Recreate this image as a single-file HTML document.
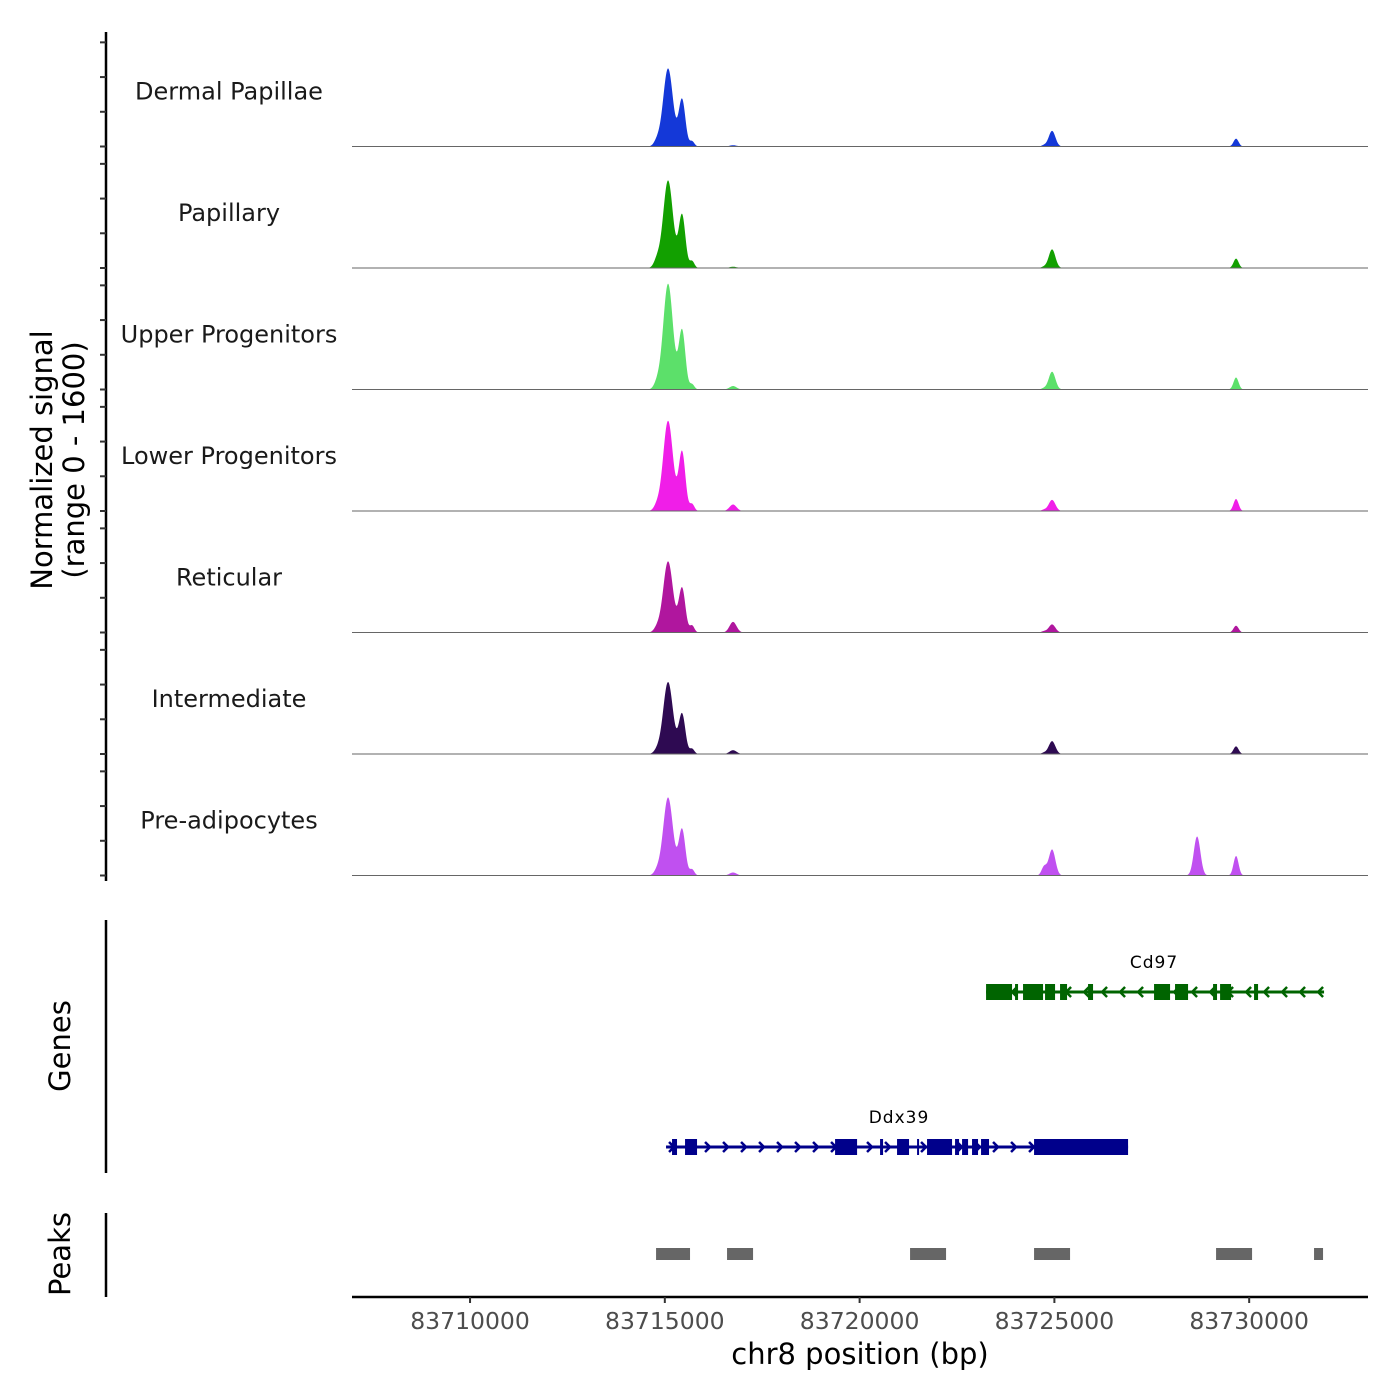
<!DOCTYPE html>
<html><head><meta charset="utf-8"><style>
html,body{margin:0;padding:0;background:#fff;}
svg{display:block;font-family:"DejaVu Sans","Liberation Sans",sans-serif;}
</style></head><body>
<svg id="chart" width="1400" height="1400" viewBox="0 0 1400 1400">
<g id="tracks"></g>
<g id="genes"></g>
<g id="peaks"></g>
<g id="xaxis"></g>
<text x="0" y="0" transform="translate(52,460) rotate(-90)" text-anchor="middle" font-size="29" fill="#000">Normalized signal</text>
<text x="0" y="0" transform="translate(84,460) rotate(-90)" text-anchor="middle" font-size="29" fill="#000">(range 0 - 1600)</text>
<text x="0" y="0" transform="translate(70,1046) rotate(-90)" text-anchor="middle" font-size="29" fill="#000">Genes</text>
<text x="0" y="0" transform="translate(70,1254) rotate(-90)" text-anchor="middle" font-size="29" fill="#000">Peaks</text>
<text x="860" y="1364" text-anchor="middle" font-size="29" fill="#000">chr8 position (bp)</text>
</svg>
<script>
const NS="http://www.w3.org/2000/svg";
const trackNames=["Dermal Papillae","Papillary","Upper Progenitors","Lower Progenitors","Reticular","Intermediate","Pre-adipocytes"];
const trackColors=["#1438d8","#12a000","#5ce06a","#f01ee8","#b0169e","#2e0a52","#c050f0"];
const peakPos=[83714800,83715083,83715442,83715699,83716751,83724735,83724940,83728663,83729663];
const peakWidth=[80,125,85,60,90,65,85,85,65];
const dermalVals=[60,900,540,60,15,15,180,0,90];
const papillaryVals=[90,1010,610,80,15,15,215,0,108];
const upperVals=[70,1220,680,60,40,15,205,0,138];
const lowerVals=[60,1040,680,80,75,15,128,0,138];
const reticularVals=[50,820,510,80,122,15,93,0,78];
const intermediateVals=[40,830,460,60,44,15,148,0,88];
const preadipVals=[50,900,530,70,35,100,300,450,225];
const trackVals=[dermalVals,papillaryVals,upperVals,lowerVals,reticularVals,intermediateVals,preadipVals];
const ddx39Exons=[[83715185,83715313],[83715519,83715827],[83719370,83719935],[83720525,83720602],[83720961,83721269],[83721475,83721500],[83721731,83722373],[83722450,83722553],[83722630,83722784],[83722886,83723040],[83723117,83723322],[83724478,83726891]];
const cd97Exons=[[83723246,83723913],[83723990,83724067],[83724195,83724709],[83724760,83725017],[83725145,83725325],[83725864,83725992],[83727558,83727969],[83728097,83728431],[83729073,83729175],[83729253,83729535],[83730125,83730228]];
const peakRegions=[[83714775,83715647],[83716597,83717265],[83721295,83722219],[83724478,83725402],[83729150,83730074],[83731665,83731896]];
const xTicks=[83710000,83715000,83720000,83725000,83730000];
const yTickVals=[0,400,800,1200];

const X0=352,X1=1368,BP0=83706970,BP1=83733050;
const xs=bp=>X0+(bp-BP0)/(BP1-BP0)*(X1-X0);
const TRACK_H=121.5, FIRST_BASE=146.5, PX_PER=138.8/1600;
const ys=(v,base)=>base-v*PX_PER;
function el(tag,attrs,parent){const e=document.createElementNS(NS,tag);for(const k in attrs)e.setAttribute(k,attrs[k]);parent.appendChild(e);return e;}

const tracks=document.getElementById('tracks');
const ax=el('line',{x1:106,x2:106,y1:32,y2:881,stroke:'#000','stroke-width':2.5},tracks);


for(let t=0;t<trackNames.length;t++){
  const base=FIRST_BASE+t*TRACK_H;
  const g=el('g',{},tracks);
  
  
  for(const v of yTickVals){
    const y=base-v*(TRACK_H/1400);
    const tk=el('line',{x1:100,x2:106,y1:y,y2:y,stroke:'#333','stroke-width':2},g);
    
    
  }
  const lab=el('text',{x:229,y:base-47,'text-anchor':'middle','font-size':24,fill:'#1a1a1a'},g);
  lab.textContent=trackNames[t];
  
  
  const vals=trackVals[t];
  let d='M'+X0+','+base;
  for(let x=X0;x<=X1;x+=0.5){
    const bp=BP0+(x-X0)/(X1-X0)*(BP1-BP0);
    let v=0;
    for(let i=0;i<peakPos.length;i++){const z=(bp-peakPos[i])/peakWidth[i];v+=vals[i]*Math.exp(-0.5*z*z);}
    d+='L'+x.toFixed(1)+','+ys(v,base).toFixed(2);
  }
  d+='L'+X1+','+base+'Z';
  const a=el('path',{d:d,fill:trackColors[t],stroke:'none'},g);
  
  
  const bl=el('line',{x1:X0,x2:X1,y1:base,y2:base,stroke:'#666','stroke-width':1},g);
  
  
}

const genes=document.getElementById('genes');
const gax=el('line',{x1:106,x2:106,y1:920,y2:1173,stroke:'#000','stroke-width':2.5},genes);


function drawGene(name,start,end,exons,y,color,dir,lx){
  const g=el('g',{},genes);
  
  
  el('line',{x1:xs(start),x2:xs(end),y1:y,y2:y,stroke:color,'stroke-width':3},g);
  for(let x=xs(start)+8;x<xs(end);x+=18){
    const dx=dir*5;
    el('polyline',{points:(x-dx)+','+(y-5)+' '+x+','+y+' '+(x-dx)+','+(y+5),fill:'none',stroke:color,'stroke-width':2.5},g);
  }
  for(const e of exons){
    const r=el('rect',{x:xs(e[0]),y:y-8,width:Math.max(2,xs(e[1])-xs(e[0])),height:16,fill:color},g);
    
    
  }
  const t=el('text',{x:lx,y:y-24,'text-anchor':'middle','font-size':17,fill:'#000','letter-spacing':'1'},g);
  t.textContent=name;
  
  
}
drawGene('Cd97',83723246,83731922,cd97Exons,992,'#006400',-1,1154);
drawGene('Ddx39',83715031,83726891,ddx39Exons,1147,'#00008b',1,899);

const peaks=document.getElementById('peaks');
const pax=el('line',{x1:106,x2:106,y1:1213,y2:1297,stroke:'#000','stroke-width':2.5},peaks);


for(const p of peakRegions){
  const r=el('rect',{x:xs(p[0]),y:1248,width:xs(p[1])-xs(p[0]),height:12,fill:'#666'},peaks);
  
  
}

const xa=document.getElementById('xaxis');
const xl=el('line',{x1:X0,x2:X1,y1:1297,y2:1297,stroke:'#000','stroke-width':2.5},xa);


for(const v of xTicks){
  const x=xs(v);
  const tk=el('line',{x1:x,x2:x,y1:1297,y2:1303,stroke:'#333','stroke-width':2},xa);
  
  
  const t=el('text',{x:x,y:1329,'text-anchor':'middle','font-size':23.5,fill:'#4d4d4d'},xa);
  t.textContent=v;
  
  
}
</script>
</body></html>
